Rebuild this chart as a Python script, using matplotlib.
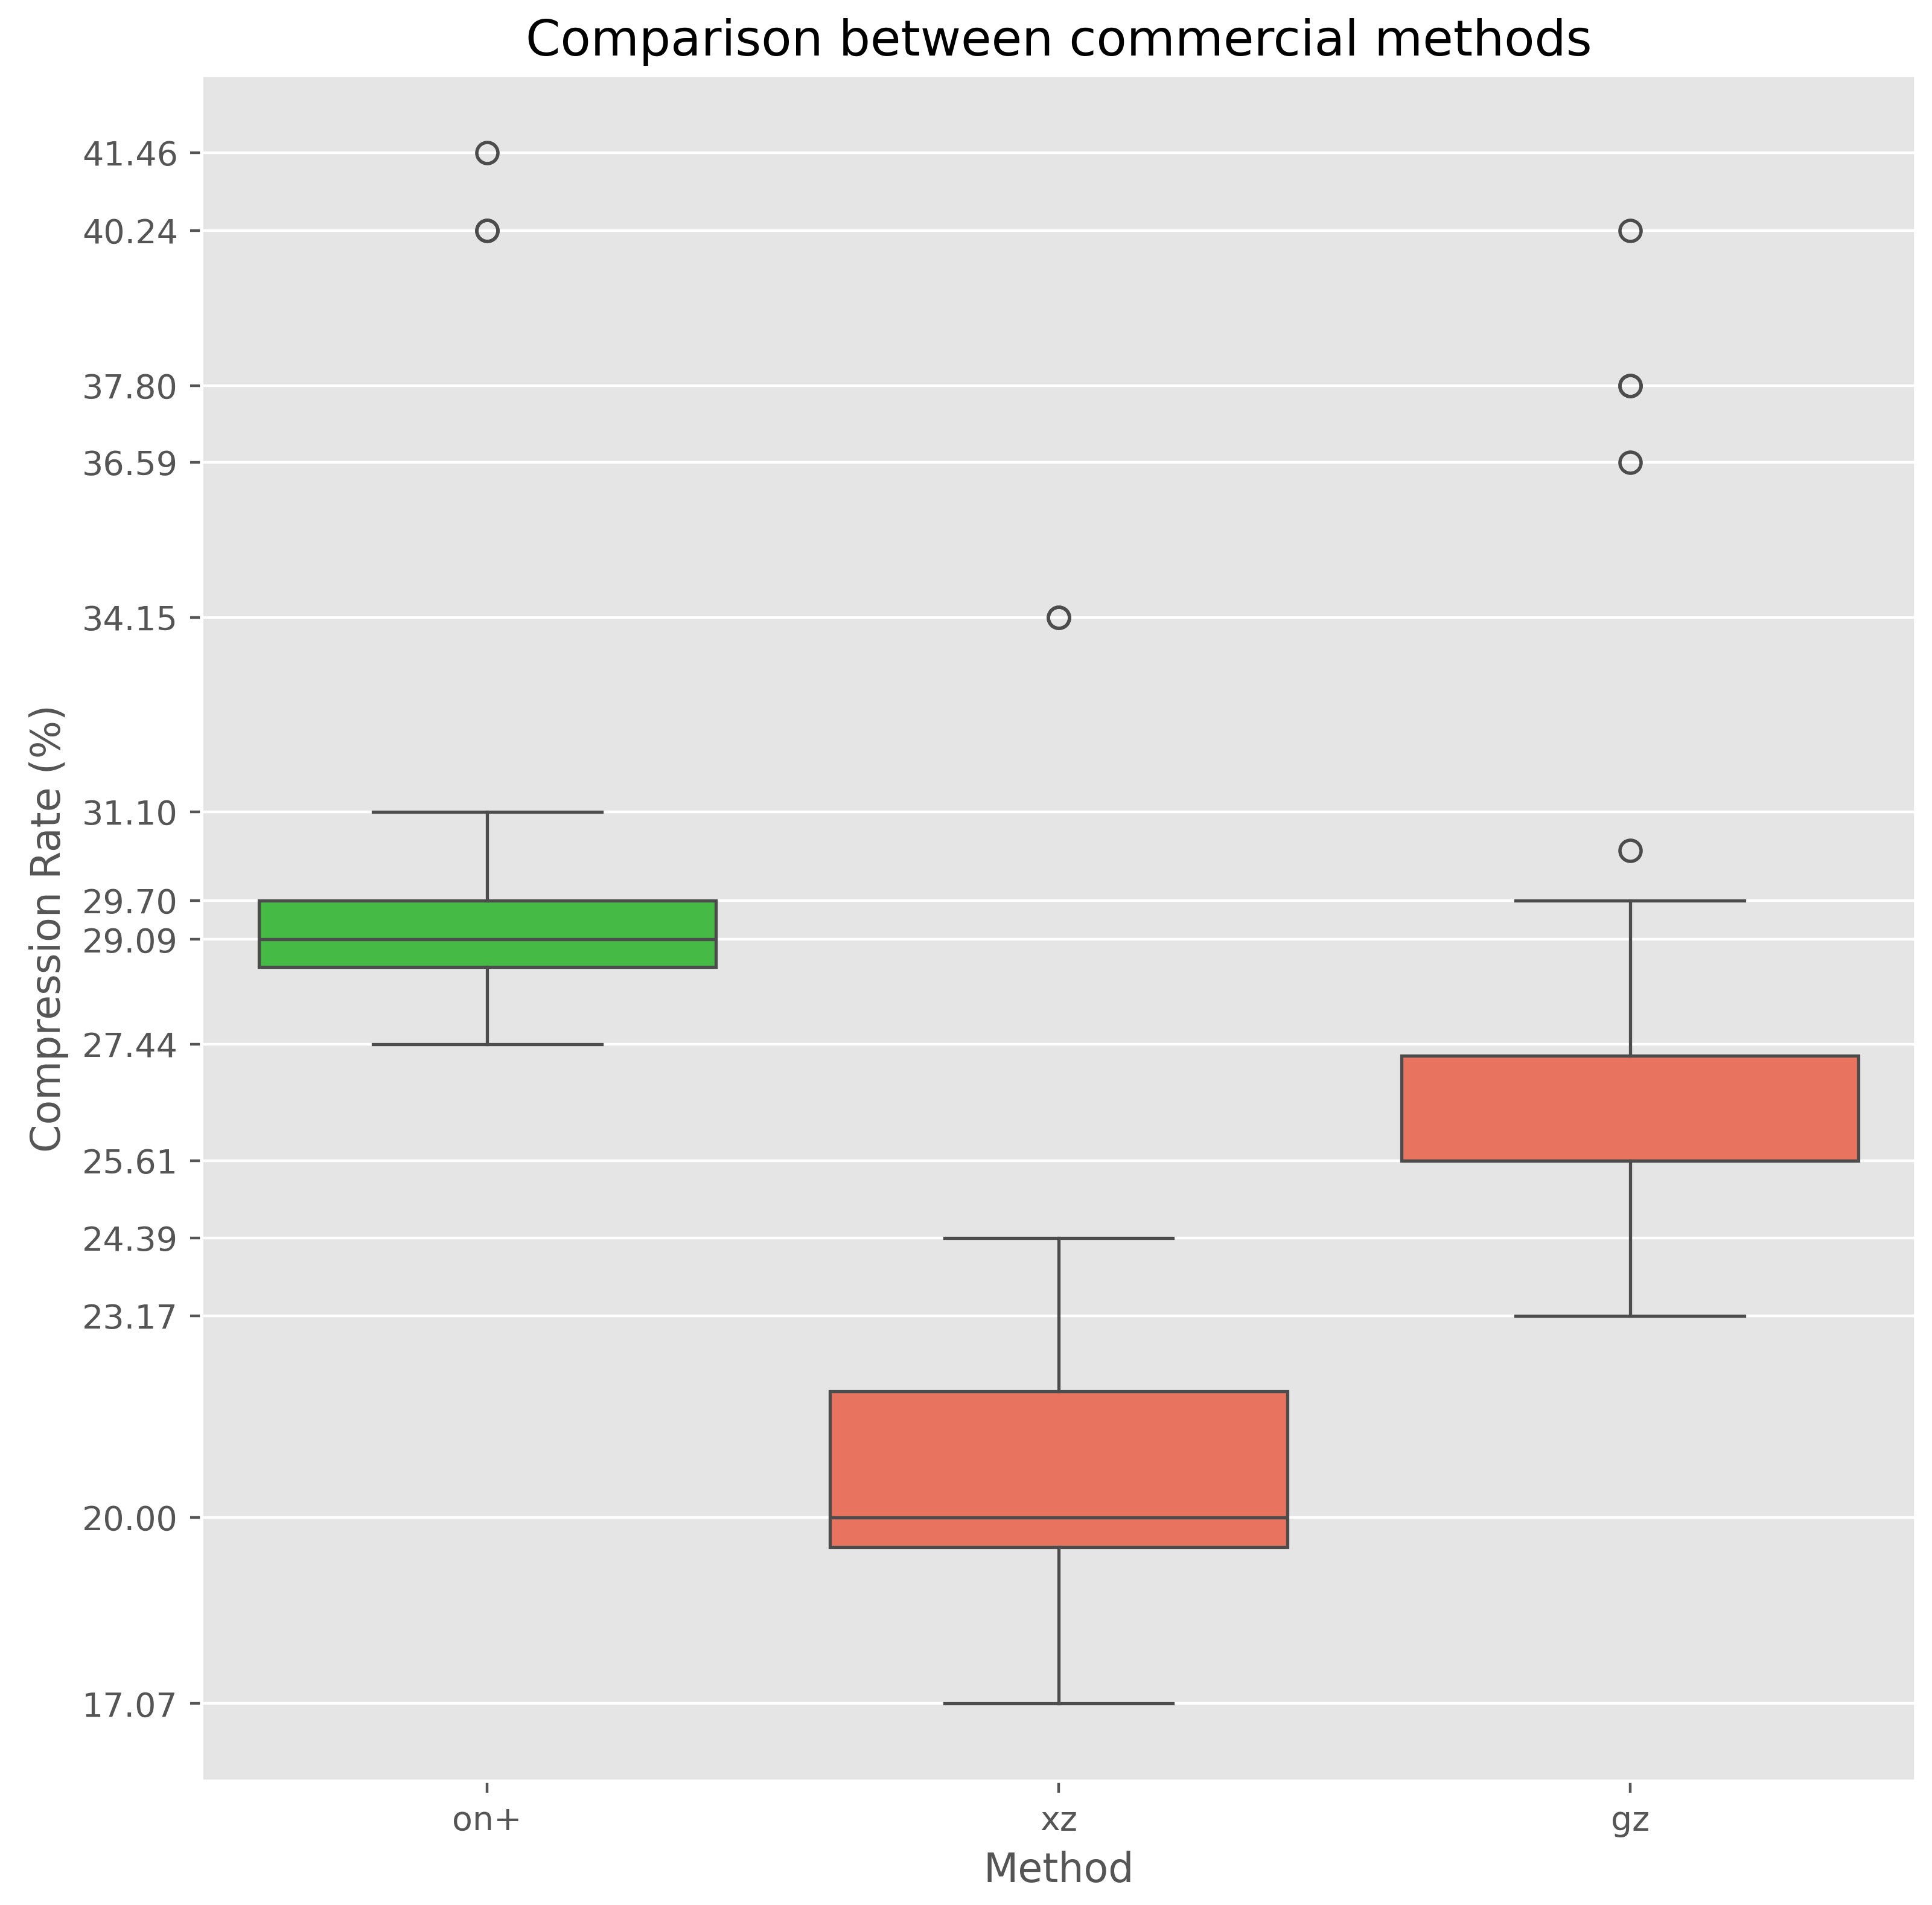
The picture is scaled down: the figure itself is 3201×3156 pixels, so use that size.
import numpy as np
import matplotlib
matplotlib.use("Agg")
import matplotlib.pyplot as plt

plt.style.use('ggplot')

methods = ['on+', 'xz', 'gz']
box_colors = ['#45ba45', '#e8735e']  # desaturated limegreen / tomato
method_color = [box_colors[0], box_colors[1], box_colors[1]]

# box statistics (Compression Rate %)
q1 = [28.66, 19.53, 25.61]
median = [29.09, 20.00, 25.61]
q3 = [29.70, 21.98, 27.26]
whislo = [27.44, 17.07, 23.17]
whishi = [31.10, 24.39, 29.70]
fliers = [
    [40.24, 40.24, 41.46],
    [34.15, 34.15],
    [30.49, 36.59, 37.80, 37.80, 40.24],
]

yticks = [17.07, 20.00, 23.17, 24.39, 25.61, 27.44, 29.09, 29.70,
          31.10, 34.15, 36.59, 37.80, 40.24, 41.46]

stats = []
for i, m in enumerate(methods):
    stats.append({'label': m, 'q1': q1[i], 'med': median[i], 'q3': q3[i],
                  'whislo': whislo[i], 'whishi': whishi[i],
                  'fliers': fliers[i]})

line_gray = '#4c4c4c'
lw = 0.95

fig = plt.figure(figsize=(3201 / 400, 3156 / 400), dpi=400)
ax = fig.add_axes([0.1043, 0.0650, 0.8873, 0.8954])

bp = ax.bxp(stats, positions=[0, 1, 2], widths=0.8, capwidths=0.4,
            patch_artist=True, showfliers=True,
            boxprops=dict(edgecolor=line_gray, linewidth=lw),
            medianprops=dict(color=line_gray, linewidth=lw),
            whiskerprops=dict(color=line_gray, linewidth=lw),
            capprops=dict(color=line_gray, linewidth=lw),
            flierprops=dict(marker='o', markerfacecolor='none',
                            markeredgecolor=line_gray, markersize=6.3,
                            markeredgewidth=1.0))
for patch, c in zip(bp['boxes'], method_color):
    patch.set_facecolor(c)

# y range with 5% margin around all data
lo = min(whislo)
hi = max(max(f) for f in fliers)
pad = (hi - lo) * 0.05
ax.set_ylim(lo - pad, hi + pad)
ax.set_xlim(-0.5, 2.5)

ax.set_yticks(yticks)
ax.set_yticklabels([f'{v:.2f}' for v in yticks])
ax.set_xticks([0, 1, 2])
ax.set_xticklabels(methods)
ax.xaxis.grid(False)

ax.set_title('Comparison between commercial methods', fontsize=14.8)
ax.set_xlabel('Method')
ax.set_ylabel('Compression Rate (%)')

fig.savefig('out.png', dpi=400)
